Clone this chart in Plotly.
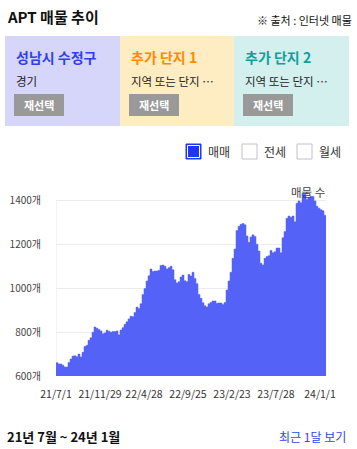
import plotly.graph_objects as go

# ---------------- data ----------------
listing_counts = [
    661, 655, 655, 649, 641, 641, 662, 678, 691, 692, 688, 700, 687, 708, 735, 740,
    763, 775, 800, 824, 818, 813, 806, 793, 797, 809, 805, 800, 803, 803, 806, 789,
    810, 821, 836, 848, 861, 873, 871, 890, 915, 908, 930, 973, 1000, 1034, 1058, 1089,
    1077, 1080, 1080, 1083, 1105, 1107, 1101, 1089, 1095, 1102, 1086, 1040, 1025, 1031,
    1052, 1061, 1035, 1031, 1064, 1057, 1074, 1046, 1022, 973, 955, 935, 921, 915, 930,
    936, 943, 943, 932, 934, 934, 927, 936, 993, 1034, 1074, 1138, 1180, 1265, 1284,
    1293, 1297, 1291, 1240, 1211, 1235, 1245, 1238, 1202, 1171, 1115, 1107, 1138, 1146,
    1150, 1174, 1163, 1168, 1185, 1185, 1163, 1232, 1260, 1321, 1331, 1325, 1331, 1305,
    1389, 1400, 1392, 1435, 1431, 1408, 1416, 1421, 1420, 1400, 1376, 1367, 1360, 1355,
    1335,
]
x_tick_index = [0, 22, 44, 66, 88, 110, 132]
x_tick_labels = ["21/7/1", "21/11/29", "22/4/28", "22/9/25", "23/2/23", "23/7/28", "24/1/1"]
y_tick_values = [600, 800, 1000, 1200, 1400]
y_tick_labels = [f"{v}개" for v in y_tick_values]

panel_titles = ["성남시 수정구", "추가 단지 1", "추가 단지 2"]
panel_subtitles = ["경기", "지역 또는 단지 …", "지역 또는 단지 …"]
legend_items = ["매매", "전세", "월세"]

# ---------------- geometry ----------------
W, H = 357, 449
ML, MR, MT, MB = 56, 31, 190, 73
PW, PH = W - ML - MR, H - MT - MB

def px(x):
    return (x - ML) / PW

def py(y):
    return (H - MB - y) / PH

KR = "Noto Sans CJK KR, Noto Sans, sans-serif"
AREA = "#5462f7"

xs = list(range(len(listing_counts))) + [len(listing_counts)]
ys = listing_counts + [listing_counts[-1]]

fig = go.Figure()
fig.add_trace(go.Scatter(
    x=xs, y=ys, mode="lines", line=dict(color=AREA, width=0.5, shape="hv"),
    fill="tozeroy", fillcolor=AREA, hoverinfo="skip", showlegend=False,
))

shapes = []
annotations = []

# left axis line (600 -> 1400)
shapes.append(dict(type="line", xref="x", yref="y", x0=0, x1=0, y0=600, y1=1400,
                   line=dict(color="#e8e8e8", width=1), layer="below"))

# panels
panel_bg = ["#d6d6fb", "#feecc2", "#d3f0ee"]
panel_title_col = ["#2f3ff0", "#ff8a00", "#10a09a"]
panel_x = [(5, 120), (120, 234), (234, 349)]
for i in range(3):
    x0, x1 = panel_x[i]
    shapes.append(dict(type="rect", xref="paper", yref="paper", x0=px(x0), x1=px(x1),
                       y0=py(126), y1=py(36), fillcolor=panel_bg[i], line=dict(width=0)))
    annotations.append(dict(xref="paper", yref="paper", x=px(x0 + 9), y=py(57),
                            xanchor="left", yanchor="middle", showarrow=False,
                            text=f"<b>{panel_titles[i]}</b>",
                            font=dict(family=KR, size=14, color=panel_title_col[i])))
    annotations.append(dict(xref="paper", yref="paper", x=px(x0 + 9), y=py(81),
                            xanchor="left", yanchor="middle", showarrow=False,
                            text=panel_subtitles[i],
                            font=dict(family=KR, size=11.5, color="#222")))
    shapes.append(dict(type="rect", xref="paper", yref="paper", x0=px(x0 + 9), x1=px(x0 + 59),
                       y0=py(116), y1=py(94), fillcolor="#999999", line=dict(width=0)))
    annotations.append(dict(xref="paper", yref="paper", x=px(x0 + 34), y=py(105),
                            xanchor="center", yanchor="middle", showarrow=False,
                            text="<b>재선택</b>", font=dict(family=KR, size=11, color="white")))

# title & source
annotations.append(dict(xref="paper", yref="paper", x=px(5), y=py(16), xanchor="left",
                        yanchor="middle", showarrow=False, text="<b>APT 매물 추이</b>",
                        font=dict(family=KR, size=15, color="#111")))
annotations.append(dict(xref="paper", yref="paper", x=px(354), y=py(20), xanchor="right",
                        yanchor="middle", showarrow=False, text="※ 출처 : 인터넷 매물",
                        font=dict(family=KR, size=11, color="#111")))

# legend checkboxes
box_x = [186, 242, 297]
for i, name in enumerate(legend_items):
    bx = box_x[i]
    if i == 0:
        shapes.append(dict(type="rect", xref="paper", yref="paper", x0=px(bx), x1=px(bx + 15),
                           y0=py(159), y1=py(144), fillcolor="#1d36f2",
                           line=dict(color="#1d36f2", width=1)))
        shapes.append(dict(type="rect", xref="paper", yref="paper", x0=px(bx + 1.5), x1=px(bx + 13.5),
                           y0=py(157.5), y1=py(145.5), fillcolor="rgba(0,0,0,0)",
                           line=dict(color="white", width=1)))
    else:
        shapes.append(dict(type="rect", xref="paper", yref="paper", x0=px(bx), x1=px(bx + 15),
                           y0=py(159), y1=py(144), fillcolor="white",
                           line=dict(color="#c2c2ca", width=1)))
    annotations.append(dict(xref="paper", yref="paper", x=px(bx + 20), y=py(151.5),
                            xanchor="left", yanchor="middle", showarrow=False, text=name,
                            font=dict(family=KR, size=12, color="#333")))

# series label
annotations.append(dict(xref="paper", yref="paper", x=px(327), y=py(192), xanchor="right",
                        yanchor="middle", showarrow=False, text="매물 수",
                        font=dict(family=KR, size=11.5, color="#444")))

# footer
annotations.append(dict(xref="paper", yref="paper", x=px(5), y=py(436), xanchor="left",
                        yanchor="middle", showarrow=False, text="<b>21년 7월 ~ 24년 1월</b>",
                        font=dict(family=KR, size=13, color="#111")))
annotations.append(dict(xref="paper", yref="paper", x=px(348), y=py(436), xanchor="right",
                        yanchor="middle", showarrow=False, text="최근 1달 보기",
                        font=dict(family=KR, size=12, color="#3146e6")))

fig.update_layout(
    width=W, height=H, margin=dict(l=ML, r=MR, t=MT, b=MB, autoexpand=False),
    paper_bgcolor="white", plot_bgcolor="white", showlegend=False,
    shapes=shapes, annotations=annotations,
    xaxis=dict(range=[0, len(listing_counts)], tickmode="array", tickvals=x_tick_index,
               ticktext=x_tick_labels, showgrid=False, zeroline=False, showline=False,
               ticks="outside", ticklen=8, tickcolor="rgba(0,0,0,0)", tickangle=0,
               tickfont=dict(family=KR, size=10.5, color="#333"), fixedrange=True),
    yaxis=dict(range=[600, 1450], tickmode="array", tickvals=y_tick_values,
               ticktext=y_tick_labels, showgrid=True, gridcolor="#ececec", gridwidth=1,
               zeroline=False, showline=False, ticks="outside", ticklen=12,
               tickcolor="rgba(0,0,0,0)", tickfont=dict(family=KR, size=10, color="#444"),
               fixedrange=True),
)

fig.write_html("out.html", config={"displayModeBar": False},
               post_script="document.body.style.margin='0';document.body.style.padding='0';"
                           "document.body.style.overflow='hidden';")
